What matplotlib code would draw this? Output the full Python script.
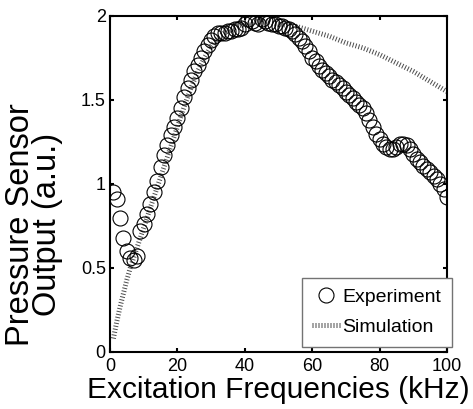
import matplotlib
matplotlib.use("Agg")
import matplotlib.pyplot as plt

plt.rcParams["font.family"] = ["Liberation Sans", "DejaVu Sans"]

# measured response, 1 kHz steps
exp_freq = list(range(1, 101))
exp_out = [
    0.95, 0.91, 0.80, 0.68, 0.60, 0.56, 0.55, 0.57, 0.72, 0.76,
    0.82, 0.88, 0.95, 1.02, 1.10, 1.17, 1.23, 1.29, 1.34, 1.39,
    1.45, 1.52, 1.57, 1.62, 1.67, 1.71, 1.75, 1.79, 1.83, 1.86,
    1.88, 1.90, 1.90, 1.90, 1.91, 1.91, 1.92, 1.92, 1.93, 1.95,
    1.98, 1.97, 1.96, 1.95, 1.98, 1.97, 1.96, 1.95, 1.95, 1.94,
    1.94, 1.93, 1.92, 1.91, 1.89, 1.87, 1.85, 1.82, 1.79, 1.75,
    1.73, 1.70, 1.68, 1.66, 1.64, 1.62, 1.61, 1.59, 1.57, 1.55,
    1.53, 1.51, 1.49, 1.47, 1.45, 1.42, 1.38, 1.34, 1.30, 1.27,
    1.24, 1.22, 1.21, 1.21, 1.22, 1.24, 1.24, 1.23, 1.21, 1.18,
    1.15, 1.13, 1.11, 1.09, 1.07, 1.05, 1.03, 1.00, 0.97, 0.92,
]

# simulated curve
sim_freq = [1, 2, 3, 4, 5, 6, 7, 8, 9, 10, 12, 14, 16, 18, 20, 22, 24, 26, 28,
            30, 32, 34, 36, 38, 40, 42, 44, 46, 48, 50, 55, 60, 65, 70, 75,
            80, 85, 90, 95, 100]
sim_out = [0.08, 0.18, 0.27, 0.35, 0.43, 0.50, 0.56, 0.62, 0.68, 0.74, 0.86,
           0.98, 1.10, 1.22, 1.34, 1.46, 1.57, 1.67, 1.75, 1.82, 1.87, 1.90,
           1.92, 1.94, 1.95, 1.96, 1.97, 1.97, 1.96, 1.95, 1.94, 1.91, 1.88,
           1.84, 1.81, 1.77, 1.72, 1.67, 1.61, 1.55]

x_ticks = [0, 20, 40, 60, 80, 100]
y_ticks = [0, 0.5, 1, 1.5, 2]
y_tick_labels = ["0", "0.5", "1", "1.5", "2"]

fig = plt.figure(figsize=(4.73, 4.09), dpi=100)
ax = fig.add_axes([0.2326, 0.1394, 0.7124, 0.8215])

ax.plot(sim_freq, sim_out, color="0.3", lw=3.6, linestyle=(0, (0.2, 0.4)),
        label="Simulation", zorder=2)
ax.plot(exp_freq, exp_out, "o", mfc="none", mec="black", ms=10.8, mew=0.8,
        label="Experiment", zorder=3)

ax.set_xlim(0, 100)
ax.set_ylim(0, 2)
ax.set_xticks(x_ticks)
ax.set_yticks(y_ticks)
ax.set_yticklabels(y_tick_labels)
ax.tick_params(direction="in", length=3, width=1.5, labelsize=13,
               top=True, right=True, pad=3)
ax.tick_params(axis="x", pad=4)
for s in ax.spines.values():
    s.set_linewidth(1.5)

ax.set_xlabel("Excitation Frequencies (kHz)", fontsize=21.5, labelpad=1)
ax.set_ylabel("Pressure Sensor\nOutput (a.u.)", fontsize=23.5, linespacing=0.82)
ax.yaxis.set_label_coords(-0.14, 0.38)

handles, labels = ax.get_legend_handles_labels()
leg = ax.legend(handles[::-1], labels[::-1], loc="lower right",
                bbox_to_anchor=(1.015, 0.015), fontsize=14, fancybox=False,
                framealpha=1, edgecolor="0.45", handlelength=1.45,
                handletextpad=0.1, borderpad=0.55, labelspacing=0.65,
                borderaxespad=0)
leg.get_frame().set_linewidth(1.0)

fig.savefig("out.png", dpi=100)
